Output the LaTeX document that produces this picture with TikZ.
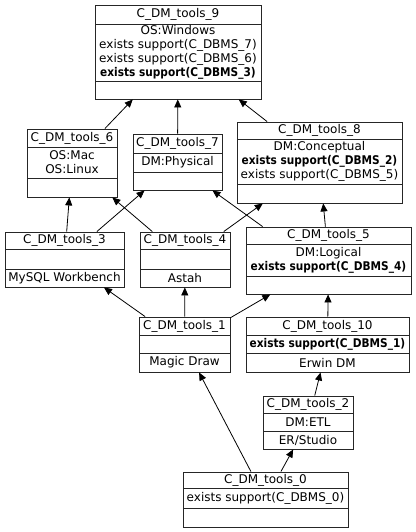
\documentclass[tikz,border=0pt]{standalone}
\usepackage{fontspec}
\setmainfont{DejaVu Sans}
\newfontfamily\condfont{DejaVu Sans}[FakeStretch=0.88]
\usetikzlibrary{fit,arrows.meta}

\newcommand{\bsup}[1]{{\condfont\bfseries exists support(C\_DBMS\_#1)}}
\newcommand{\esup}[1]{exists support(C\_DBMS\_#1)}

% #1 number, #2 left, #3 top, #4 right, #5 first rule, #6 second rule, #7 bottom
\newcommand{\dmbox}[9]{%
  \node[box, fit={(#2,#3) (#4,#7)}] (t#1) {};
  \draw[rule] (#2,#5) -- (#4,#5) (#2,#6) -- (#4,#6);
  \node[txt] (t#1-name) at ({(#2+#4)/2},{(#3+#5)/2}) {C\_DM\_tools\_#1};
  \node[txt] (t#1-attr) at ({(#2+#4)/2},{(#5+#6)/2}) {#8};
  \node[txt] (t#1-meth) at ({(#2+#4)/2},{(#6+#7)/2}) {#9};
}

\tikzset{
  box/.style={draw=black!85, line width=0.9pt, inner sep=0pt},
  rule/.style={draw=black!85, line width=0.9pt},
  txt/.style={inner sep=0pt, align=center, font=\fontsize{12}{14}\selectfont},
  dep/.style={-{Triangle[length=8pt,width=7pt]}, line width=0.8pt},
}

\begin{document}
\begin{tikzpicture}[x=1pt,y=-1pt]
    \useasboundingbox (0,0) rectangle (415,532);

    \dmbox{9}{95}{5}{261}{24}{81}{99}{OS:Windows\\\esup{7}\\\esup{6}\\\bsup{3}}{}
    \dmbox{6}{27}{129}{117}{147}{178}{197}{OS:Mac\\OS:Linux}{}
    \dmbox{7}{133}{134}{222}{153}{172}{190}{DM:Physical}{}
    \dmbox{8}{237}{122}{402}{139}{184}{203}{DM:Conceptual\\\bsup{2}\\\esup{5}}{}
    \dmbox{3}{5}{232}{124}{249}{269}{287}{}{MySQL Workbench}
    \dmbox{4}{140}{232}{230}{249}{269}{287}{}{Astah}
    \dmbox{5}{246}{227}{411}{244}{276}{294}{DM:Logical\\\bsup{4}}{}
    \dmbox{1}{139}{317}{230}{335}{353}{372}{}{Magic Draw}
    \dmbox{10}{246}{317}{409}{335}{353}{372}{\bsup{1}}{Erwin DM}
    \dmbox{2}{263}{396}{353}{413}{431}{449}{DM:ETL}{ER/Studio}
    \dmbox{0}{183}{472}{348}{488}{508}{527}{\esup{0}}{}

    % dependencies
    \draw[dep] (t6) -- (t9);
    \draw[dep] (t7) -- (t9);
    \draw[dep] (t8) -- (t9);
    \draw[dep] (t3) -- (t6);
    \draw[dep] (t3) -- (t7);
    \draw[dep] (t4) -- (t6);
    \draw[dep] (t4) -- (t8);
    \draw[dep] ([xshift=17pt]t5.north west) -- ([xshift=-10pt]t7.south east);
    \draw[dep] (t5) -- (t8);
    \draw[dep] (t1) -- (t3);
    \draw[dep] (t1) -- (t4);
    \draw[dep] (t1) -- (t5);
    \draw[dep] (t10) -- (t5);
    \draw[dep] (t2) -- (t10);
    \draw[dep] (t0) -- (t1);
    \draw[dep] (t0) -- (t2);
\end{tikzpicture}
\end{document}
